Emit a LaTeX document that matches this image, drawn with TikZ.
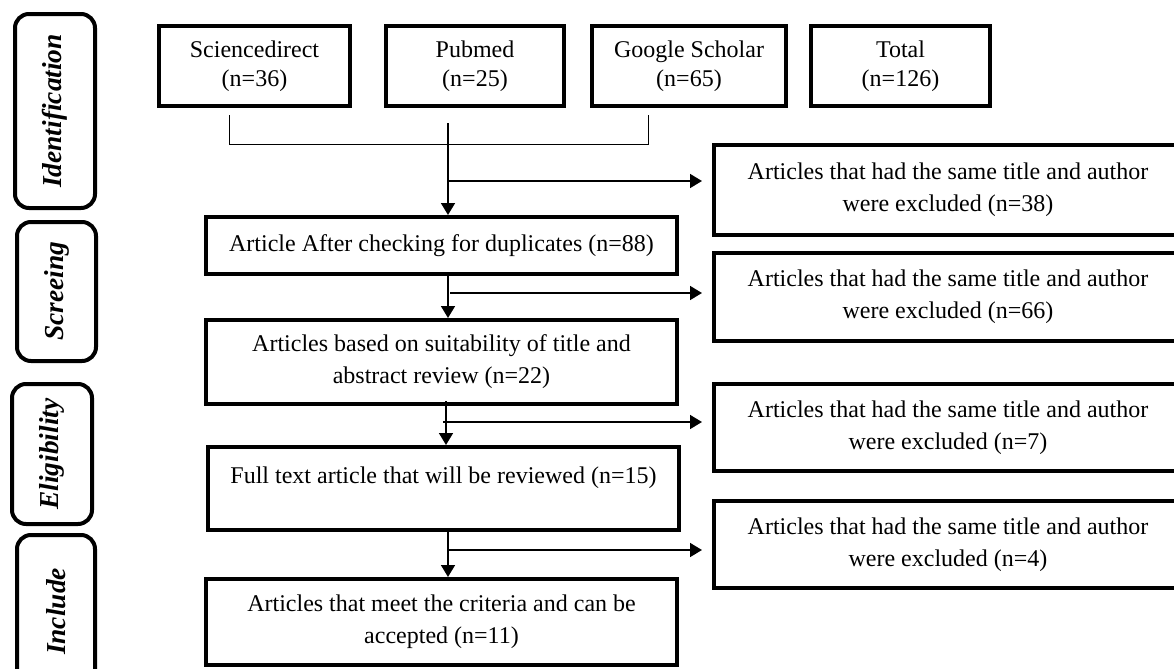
\documentclass[tikz,border=0pt]{standalone}
\usepackage{fontspec}
\setmainfont{Liberation Serif}
\usepackage{tikz}
\usetikzlibrary{arrows.meta,positioning}

\begin{document}
\begin{tikzpicture}[x=0.5pt,y=-0.5pt,
  every node/.style={font=\fontsize{12}{16}\selectfont,align=center},
  srcbox/.style={rectangle,draw,line width=2pt,minimum height=40pt,
    font=\fontsize{12}{14.5}\selectfont},
  stagebox/.style={rectangle,draw,line width=2pt,minimum width=235.5pt},
  exclbox/.style={rectangle,draw,line width=2pt,minimum width=234pt},
  phase/.style={rectangle,rounded corners=7pt,draw,line width=2pt,rotate=90,
    font=\fontsize{13.7}{16}\selectfont\bfseries\itshape},
  flow/.style={-{Triangle[length=6pt,width=7pt]},line width=0.8pt},
  side/.style={flow,shorten >=5pt},
  bracket/.style={line width=0.5pt}
]
\useasboundingbox (0,0) rectangle (1174,669);
\clip (0,0) rectangle (1174,669);
% phases
\node[phase,minimum width=97pt,minimum height=40pt] (idf) at (55,111) {Identification};
\node[phase,minimum width=69.5pt,minimum height=39.5pt] (scr) at (56.5,291.5) {Screeing};
\node[phase,minimum width=70pt,minimum height=40pt] (elg) at (52,454) {Eligibility};
\node[phase,minimum width=76.5pt,minimum height=39pt] (inc) at (56,611.5) {Include};
% sources
\node[srcbox,minimum width=95.5pt] (sd) at (254.5,66) {Sciencedirect\\(n=36)};
\node[srcbox,minimum width=89pt,right=16pt of sd] (pm) {Pubmed\\(n=25)};
\node[srcbox,minimum width=97pt,right=12pt of pm] (gs) {Google Scholar\\(n=65)};
\node[srcbox,minimum width=89.5pt,right=10.5pt of gs] (tot) {Total\\(n=126)};
% stages
\node[stagebox,minimum height=28.5pt] (dup) at (441.5,245.5) {Article After checking for duplicates (n=88)};
\node[stagebox,minimum height=42pt,below=21pt of dup] (suit) {Articles based on suitability of title and\\abstract review (n=22)};
\node[stagebox,minimum height=41.5pt,text depth=13pt,below=19.5pt of suit,xshift=1pt] (full) {Full text article that will be reviewed (n=15)};
\node[stagebox,minimum height=43pt,below=22.5pt of full,xshift=-1pt] (meet) {Articles that meet the criteria and can be\\accepted (n=11)};
% exclusions
\node[exclbox,minimum height=45pt] (ex1) at (948,190) {Articles that had the same title and author\\were excluded (n=38)};
\node[exclbox,minimum height=44pt] (ex2) at (948,297) {Articles that had the same title and author\\were excluded (n=66)};
\node[exclbox,minimum height=43.5pt] (ex3) at (948,427.5) {Articles that had the same title and author\\were excluded (n=7)};
\node[exclbox,minimum height=43.5pt] (ex4) at (948,544.5) {Articles that had the same title and author\\were excluded (n=4)};
% bracket under the sources
\coordinate (brl) at (229,115);
\coordinate (brr) at (648,115);
\draw[bracket] (brl) -- ++(0,29) -| (brr);
\coordinate (stem) at (448,123);
\draw[flow] (stem) -- (stem |- dup.north);
\coordinate (j1) at (448,181);
\draw[side] (j1) -- (j1 -| ex1.west);
\draw[flow] (dup.south -| stem) -- (suit.north -| stem);
\coordinate (j2) at (450,293);
\draw[side] (j2) -- (j2 -| ex2.west);
\coordinate (s3) at (446,401);
\draw[flow] (s3) -- (s3 |- full.north);
\coordinate (j3) at (443,422);
\draw[side] (j3) -- (j3 -| ex3.west);
\draw[flow] (full.south -| stem) -- (meet.north -| stem);
\coordinate (j4) at (448,550);
\draw[side] (j4) -- (j4 -| ex4.west);
\end{tikzpicture}
\end{document}
